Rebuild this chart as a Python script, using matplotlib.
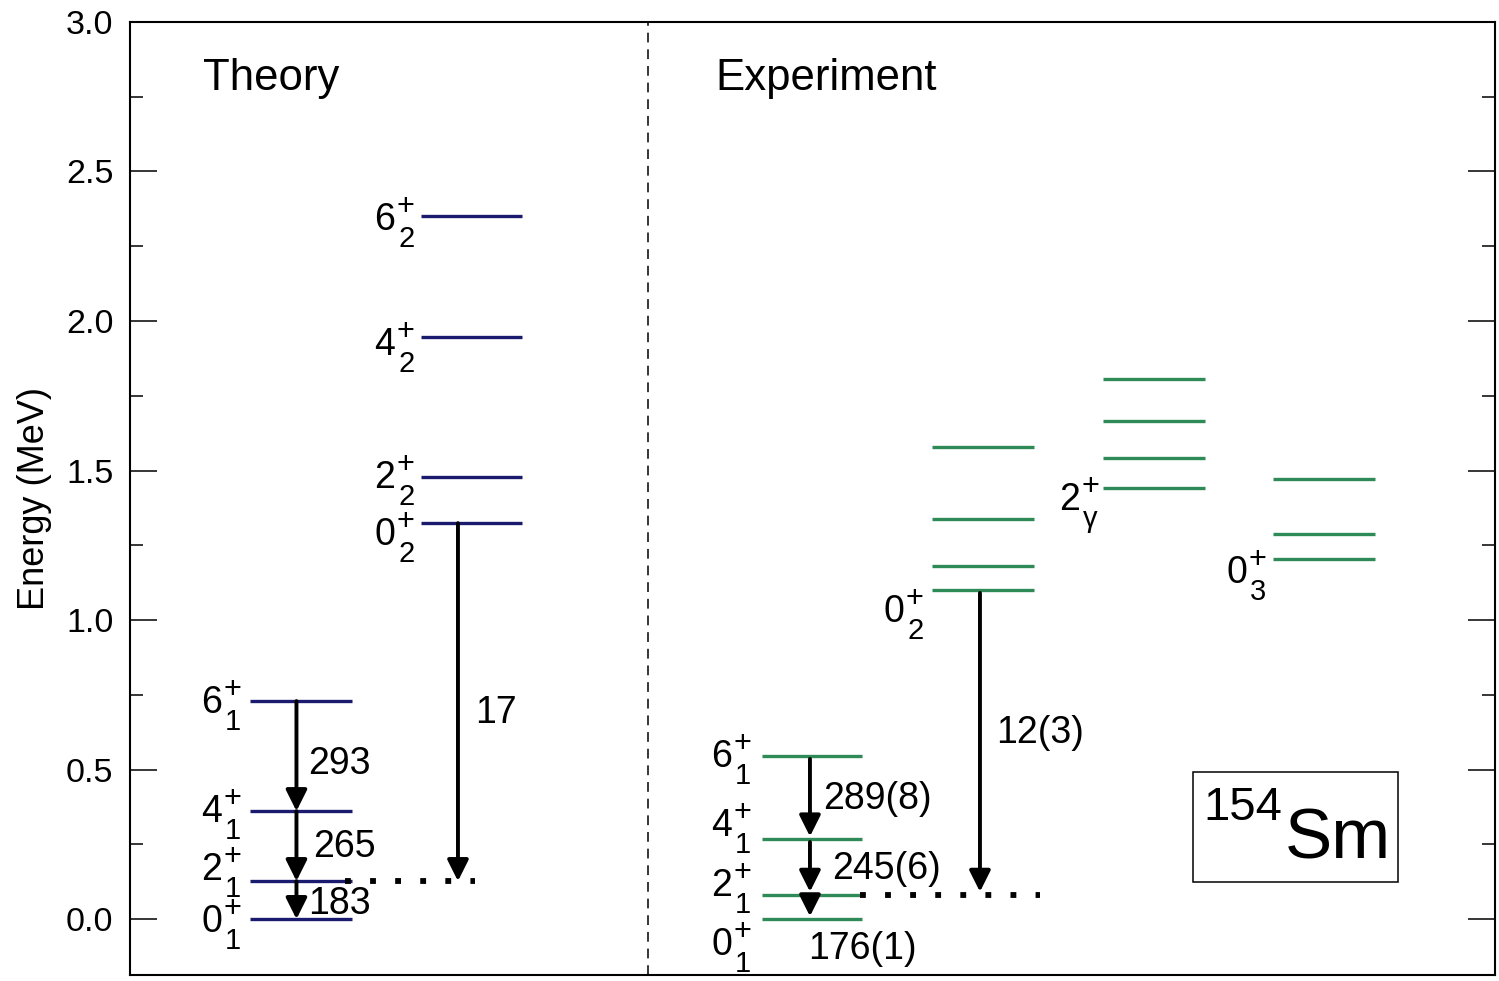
import matplotlib
matplotlib.use("Agg")
import matplotlib.pyplot as plt
from matplotlib.patches import Rectangle
from matplotlib.ticker import MultipleLocator, FormatStrFormatter

plt.rcParams['font.family'] = ['Liberation Sans', 'DejaVu Sans']

# level energies (MeV)
th_ground = [0.0, 0.127, 0.361, 0.729]
th_second = [1.324, 1.478, 1.946, 2.351]
ex_ground = [0.0, 0.082, 0.267, 0.545]
ex_beta = [1.100, 1.180, 1.338, 1.579]
ex_gamma = [1.441, 1.542, 1.666, 1.806]
ex_zero3 = [1.204, 1.288, 1.472]

# spin / band index for the level labels
ground_spins = ['0', '2', '4', '6']
ground_idx = '1'
second_idx = '2'

# transition strengths B(E2) in W.u.
th_be2 = ['183', '265', '293']
th_be2_02 = '17'
ex_be2 = ['176(1)', '245(6)', '289(8)']
ex_be2_02 = '12(3)'

TH_COLOR = '#1a1a6e'
EX_COLOR = '#2e8b57'

fig = plt.figure(figsize=(14.99, 9.81), dpi=100)
ax = fig.add_axes([0.0867, 0.0061, 0.9106, 0.9715])
ax.set_xlim(0, 13.65)
ax.set_ylim(-0.187, 3.0)


def draw_band(x0, x1, energies, color):
    ax.hlines(energies, x0, x1, colors=color, linewidth=2.4)


def level_label(x, y, spin, sub, sup='+'):
    # spin digit with stacked superscript parity and subscript index
    ax.annotate(spin, (x, y), xytext=(-0.5, 0), textcoords='offset points',
                fontsize=27, ha='right', va='center')
    ax.annotate(sup, (x, y), xytext=(0.7, 9.5), textcoords='offset points',
                fontsize=22, ha='left', va='center')
    ax.annotate(sub, (x, y), xytext=(1.5, -13.5), textcoords='offset points',
                fontsize=21, ha='left', va='center')


def arrow(x, e_from, e_to, gap=0):
    ax.annotate('', xy=(x, e_to), xytext=(x, e_from),
                arrowprops=dict(arrowstyle='-|>', mutation_scale=32, lw=2.8,
                                color='black', shrinkA=gap, shrinkB=gap))


# Theory
draw_band(1.20, 2.22, th_ground, TH_COLOR)
draw_band(2.91, 3.92, th_second, TH_COLOR)
for spin, y in zip(ground_spins, [-0.010, 0.164, 0.358, 0.722]):
    level_label(0.93, y, spin, ground_idx)
for spin, y in zip(ground_spins, [1.284, 1.475, 1.92, 2.338]):
    level_label(2.66, y, spin, second_idx)

for i in range(3):
    arrow(1.665, th_ground[i + 1], th_ground[i])
arrow(3.28, th_second[0], th_ground[1])
ax.plot([2.15, 3.45], [th_ground[1]] * 2, color='black', lw=4.2,
        linestyle=(0, (1, 3.3)))

for txt, x, y in zip(th_be2, [1.78, 1.83, 1.78], [0.050, 0.240, 0.518]):
    ax.text(x, y, txt, fontsize=27, ha='left', va='center')
ax.text(3.45, 0.690, th_be2_02, fontsize=27, ha='left', va='center')

# Experiment
draw_band(6.32, 7.32, ex_ground, EX_COLOR)
draw_band(8.02, 9.04, ex_beta, EX_COLOR)
draw_band(9.73, 10.75, ex_gamma, EX_COLOR)
draw_band(11.43, 12.45, ex_zero3, EX_COLOR)
for spin, y in zip(ground_spins, [-0.087, 0.110, 0.311, 0.542]):
    level_label(6.03, y, spin, ground_idx)
level_label(7.75, 1.027, '0', '2')
level_label(9.51, 1.401, '2', 'γ')
level_label(11.18, 1.157, '0', '3')

for i in range(3):
    arrow(6.80, ex_ground[i + 1], ex_ground[i], gap=2)
arrow(8.50, ex_beta[0], ex_ground[1], gap=2)
ax.plot([7.30, 9.10], [ex_ground[1]] * 2, color='black', lw=4.2,
        linestyle=(0, (1, 3.3)))

for txt, x, y in zip(ex_be2, [6.78, 7.02, 6.93], [-0.100, 0.168, 0.402]):
    ax.text(x, y, txt, fontsize=27, ha='left', va='center')
ax.text(8.66, 0.623, ex_be2_02, fontsize=27, ha='left', va='center')

# panel titles and divider
ax.text(0.73, 2.81, 'Theory', fontsize=31.5, ha='left', va='center')
ax.text(5.85, 2.81, 'Experiment', fontsize=31.5, ha='left', va='center')
ax.axvline(5.18, color='black', lw=1.1, linestyle=(0, (6.4, 4.5)))

# nucleus label
ax.add_patch(Rectangle((10.63, 0.124), 2.05, 0.368, fill=False,
                       edgecolor='black', lw=1.1))
ax.text(10.73, 0.372, '154', fontsize=34, ha='left', va='center')
ax.text(11.55, 0.262, 'Sm', fontsize=51, ha='left', va='center')

# axes styling
ax.set_ylabel('Energy (MeV)', fontsize=26, labelpad=10)
ax.set_xticks([])
ax.yaxis.set_major_locator(MultipleLocator(0.5))
ax.yaxis.set_minor_locator(MultipleLocator(0.25))
ax.yaxis.set_major_formatter(FormatStrFormatter('%.1f'))
ax.tick_params(axis='y', which='both', direction='in', left=True, right=True,
               labelsize=24.5, width=1.1, pad=12)
ax.tick_params(axis='y', which='major', length=19.4)
ax.tick_params(axis='y', which='minor', length=9.5)
for s in ax.spines.values():
    s.set_linewidth(1.5)

fig.savefig('out.png', dpi=100)
